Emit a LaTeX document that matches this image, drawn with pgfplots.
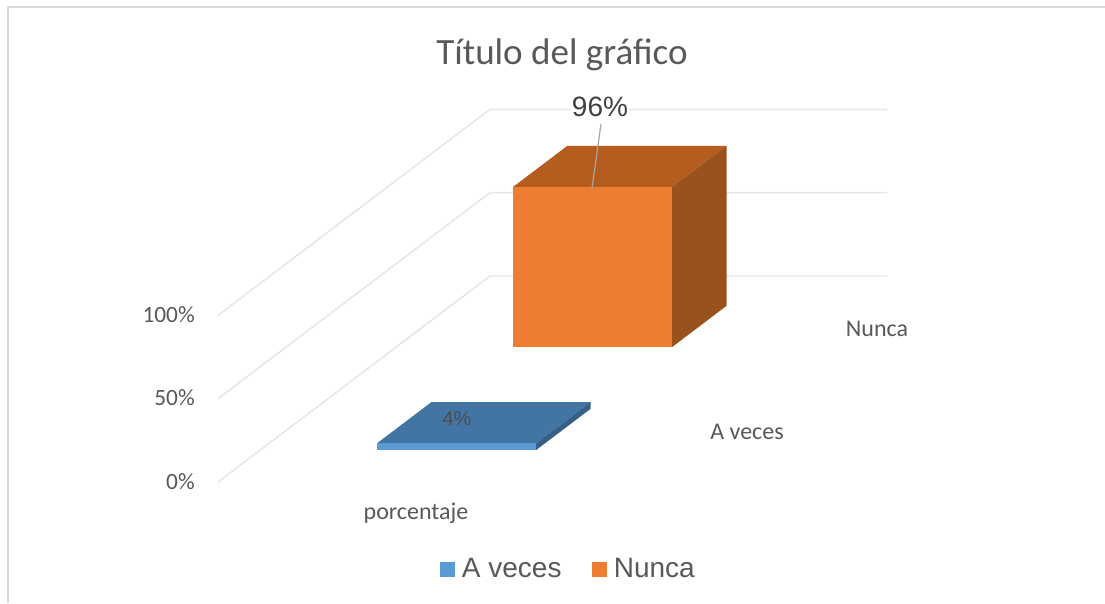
\documentclass[border=0pt]{standalone}
\usepackage{fontspec}
\setmainfont{Carlito}
\newfontfamily\arial{Liberation Sans}
\usepackage{pgfplots}
\pgfplotsset{compat=1.18}
\definecolor{gridc}{HTML}{E6E6E6}
\definecolor{framec}{HTML}{D9D9D9}
\definecolor{txt}{HTML}{595959}
\definecolor{bluef}{HTML}{5B9BD5}
\definecolor{bluet}{HTML}{4275A3}
\definecolor{bluer}{HTML}{355F86}
\definecolor{orf}{HTML}{ED7D31}
\definecolor{ort}{HTML}{B55D1F}
\definecolor{orr}{HTML}{9A521C}
\begin{document}
\begin{tikzpicture}[x=0.75pt,y=-0.75pt]
\path[use as bounding box] (0,0) rectangle (1105,603);
\fill[white] (0,0) rectangle (1105,603);
\draw[framec,line width=1.3pt] (8,603) -- (8,7) -- (1105,7);
\begin{axis}[
  at={(163.5pt,-361.5pt)}, anchor=origin,
  x={(297.75pt,0pt)}, y={(102pt,77.25pt)}, z={(0pt,1.25pt)},
  xmin=0,xmax=1,ymin=0,ymax=2,zmin=0,zmax=100,
  hide axis, clip=false,
  legend columns=2,
  legend style={draw=none,fill=none,at={(0.5245,-0.234)},anchor=center,
    font=\arial\fontsize{21}{24}\selectfont,text=txt,
    /tikz/every even column/.style={column sep=21pt},
    inner sep=0pt},
  legend image code/.code={\fill[#1] (0pt,-5.6pt) rectangle (11.2pt,5.6pt);},
]
% back walls / floor gridlines
\addplot3[gridc,line width=1.1pt,forget plot] coordinates {(0,0,0)(0,2,0)(1,2,0)};
\addplot3[gridc,line width=1.1pt,forget plot] coordinates {(0,0,50)(0,2,50)(1,2,50)};
\addplot3[gridc,line width=1.1pt,forget plot] coordinates {(0,0,100)(0,2,100)(1,2,100)};
% A veces, 4 %
\addplot3[fill=bluet,draw=none,forget plot] coordinates {(0.294,0.311,4)(0.695,0.311,4)(0.695,0.711,4)(0.294,0.711,4)} --cycle;
\addplot3[fill=bluer,draw=none,forget plot] coordinates {(0.695,0.311,0)(0.695,0.711,0)(0.695,0.711,4)(0.695,0.311,4)} --cycle;
\addplot3[fill=bluef,draw=none] coordinates {(0.294,0.311,0)(0.695,0.311,0)(0.695,0.311,4)(0.294,0.311,4)} --cycle;
\addlegendentry{\hspace{3pt}A veces}
% Nunca, 96 %
\addplot3[fill=ort,draw=none,forget plot] coordinates {(0.294,1.311,96)(0.695,1.311,96)(0.695,1.711,96)(0.294,1.711,96)} --cycle;
\addplot3[fill=orr,draw=none,forget plot] coordinates {(0.695,1.311,0)(0.695,1.711,0)(0.695,1.711,96)(0.695,1.311,96)} --cycle;
\addplot3[fill=orf,draw=none] coordinates {(0.294,1.311,0)(0.695,1.311,0)(0.695,1.311,96)(0.294,1.311,96)} --cycle;
\addlegendentry{\hspace{3pt}Nunca}
\end{axis}
\draw[gray!70,line width=0.9pt] (601,124) -- (592,188);
\node[text=txt,font=\fontsize{27.8}{32}\selectfont] at (562,55) {Título del gráfico};
\node[text=black!75,font=\arial\fontsize{21}{24}\selectfont,fill=white,inner sep=1pt] at (600,107) {96\%};
\node[text=black!70,font=\arial\fontsize{15}{18}\selectfont] at (457,419) {4\%};
\foreach \l/\y in {100\%/315,50\%/398,0\%/482}
  \node[text=txt,anchor=east,inner sep=0pt,font=\fontsize{17.5}{20}\selectfont] at (195,\y) {\l};
\node[text=txt,font=\fontsize{18}{20}\selectfont] at (416,513) {porcentaje};
\node[text=txt,font=\fontsize{18}{20}\selectfont] at (747,432) {A veces};
\node[text=txt,font=\fontsize{18}{20}\selectfont] at (877,329) {Nunca};
\end{tikzpicture}
\end{document}
